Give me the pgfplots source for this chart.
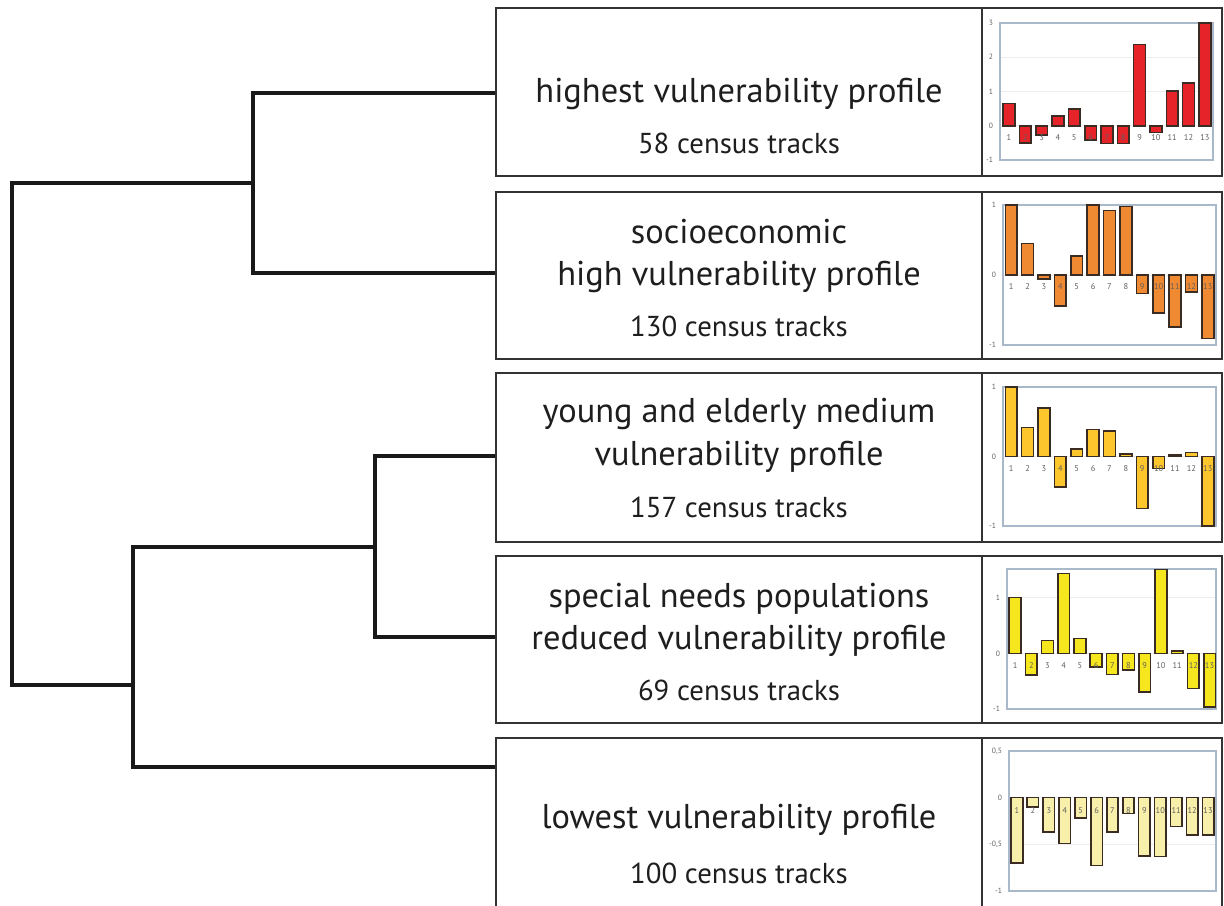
\documentclass[border=0pt]{standalone}
\usepackage{fontspec}
\setmainfont{PT Sans}
\usepackage{pgfplots}
\pgfplotsset{compat=1.18}
\definecolor{c1}{HTML}{E52329}
\definecolor{c2}{HTML}{F08A32}
\definecolor{c3}{HTML}{FDC62C}
\definecolor{c4}{HTML}{F6E61E}
\definecolor{c5}{HTML}{F8F0AA}
\definecolor{edge}{HTML}{3A2C22}
\definecolor{frame}{HTML}{A9B9C9}
\definecolor{tickgray}{HTML}{606060}
\definecolor{gridc}{HTML}{EDEDED}
\definecolor{boxc}{HTML}{333333}
\definecolor{txt}{HTML}{1E1E1E}
\pgfplotsset{
  mini/.style={
    scale only axis, ybar, bar width=0.72, bar shift=0pt,
    xmin=0.5, xmax=13.5,
    axis line style={draw=frame, line width=0.75pt},
    xtick=\empty, major tick length=0pt,
    yticklabel style={font=\fontsize{3.8}{4}\selectfont, text=tickgray},
    ymajorgrids, grid style={draw=gridc, line width=0.4pt},
    /pgf/number format/assume math mode=true,
  },
  barsty/.style={draw=edge, line width=0.8pt, fill=#1},
}
\newcommand{\xnums}{%
  \pgfplotsinvokeforeach{1,...,13}{%
    \node[font=\fontsize{4.2}{4}\selectfont, text=tickgray] at (axis cs:##1,0) [yshift=-6pt] {##1};}%
}
\begin{document}
\begin{tikzpicture}
\useasboundingbox (0,0) rectangle (612pt,452.5pt);
\begin{axis}[
  at={(0,0)}, anchor=south west, scale only axis,
  width=612pt, height=452.5pt,
  xmin=0, xmax=1224, ymin=0, ymax=905, y dir=reverse,
  hide axis, clip=true,
]
% dendrogram
\addplot[no marks, line width=1.8pt, color=black!90, line join=miter] coordinates {(497,93) (253,93) (253,273) (497,273)};
\addplot[no marks, line width=1.8pt, color=black!90, line join=miter] coordinates {(253,183) (12,183) (12,685) (133,685)};
\addplot[no marks, line width=1.8pt, color=black!90, line join=miter] coordinates {(375,547) (133,547) (133,767) (497,767)};
\addplot[no marks, line width=1.8pt, color=black!90, line join=miter] coordinates {(497,456) (375,456) (375,637) (497,637)};
% boxes
\draw[boxc, line width=1pt] (axis cs:496,8) rectangle (axis cs:1222,176);
\draw[boxc, line width=1pt] (axis cs:982,8) -- (axis cs:982,176);
\draw[boxc, line width=1pt] (axis cs:496,192) rectangle (axis cs:1222,359);
\draw[boxc, line width=1pt] (axis cs:982,192) -- (axis cs:982,359);
\draw[boxc, line width=1pt] (axis cs:496,373) rectangle (axis cs:1222,542);
\draw[boxc, line width=1pt] (axis cs:982,373) -- (axis cs:982,542);
\draw[boxc, line width=1pt] (axis cs:496,556) rectangle (axis cs:1222,723);
\draw[boxc, line width=1pt] (axis cs:982,556) -- (axis cs:982,723);
\draw[boxc, line width=1pt] (axis cs:496,738) rectangle (axis cs:1222,915);
\draw[boxc, line width=1pt] (axis cs:982,738) -- (axis cs:982,915);
% texts
\node[anchor=base, text=txt, font=\fontsize{17.2}{20}\selectfont] at (axis cs:739,102) {highest vulnerability profile};
\node[anchor=base, text=txt, font=\fontsize{14.4}{16}\selectfont] at (axis cs:739,153) {58 census tracks};
\node[anchor=base, text=txt, font=\fontsize{17.2}{20}\selectfont] at (axis cs:739,243) {socioeconomic};
\node[anchor=base, text=txt, font=\fontsize{17.2}{20}\selectfont] at (axis cs:739,285) {high vulnerability profile};
\node[anchor=base, text=txt, font=\fontsize{14.4}{16}\selectfont] at (axis cs:739,336) {130 census tracks};
\node[anchor=base, text=txt, font=\fontsize{17.2}{20}\selectfont] at (axis cs:739,422) {young and elderly medium};
\node[anchor=base, text=txt, font=\fontsize{17.2}{20}\selectfont] at (axis cs:739,465) {vulnerability profile};
\node[anchor=base, text=txt, font=\fontsize{14.4}{16}\selectfont] at (axis cs:739,517) {157 census tracks};
\node[anchor=base, text=txt, font=\fontsize{17.2}{20}\selectfont] at (axis cs:739,607) {special needs populations};
\node[anchor=base, text=txt, font=\fontsize{17.2}{20}\selectfont] at (axis cs:739,649) {reduced vulnerability profile};
\node[anchor=base, text=txt, font=\fontsize{14.4}{16}\selectfont] at (axis cs:739,700) {69 census tracks};
\node[anchor=base, text=txt, font=\fontsize{17.2}{20}\selectfont] at (axis cs:739,828) {lowest vulnerability profile};
\node[anchor=base, text=txt, font=\fontsize{14.4}{16}\selectfont] at (axis cs:739,883) {100 census tracks};
% anchors for the mini charts
\coordinate (a1) at (axis cs:1000,160);
\coordinate (a2) at (axis cs:1003,345);
\coordinate (a3) at (axis cs:1003,526);
\coordinate (a4) at (axis cs:1007,709);
\coordinate (a5) at (axis cs:1009,891);
\end{axis}

% chart 1
\begin{axis}[mini, at={(a1)}, anchor=south west, width=106.5pt, height=68.5pt,
  xmin=0.45, ymin=-1, ymax=3, ytick={-1,0,1,2,3}]
\addplot[barsty=c1] coordinates {(1,0.65) (2,-0.51) (3,-0.27) (4,0.29) (5,0.49) (6,-0.42) (7,-0.52) (8,-0.52) (9,2.37) (10,-0.20) (11,1.02) (12,1.25) (13,3.0)};
\xnums
\end{axis}

% chart 2
\begin{axis}[mini, at={(a2)}, anchor=south west, width=106.5pt, height=70pt,
  ymin=-1, ymax=1, ytick={-1,0,1}]
\addplot[barsty=c2] coordinates {(1,1.0) (2,0.45) (3,-0.06) (4,-0.44) (5,0.27) (6,1.0) (7,0.92) (8,0.98) (9,-0.265) (10,-0.54) (11,-0.74) (12,-0.24) (13,-0.91)};
\xnums
\end{axis}

% chart 3
\begin{axis}[mini, at={(a3)}, anchor=south west, width=106.5pt, height=69.5pt,
  ymin=-1, ymax=1, ytick={-1,0,1}]
\addplot[barsty=c3] coordinates {(1,1.0) (2,0.42) (3,0.70) (4,-0.44) (5,0.11) (6,0.39) (7,0.37) (8,0.04) (9,-0.75) (10,-0.17) (11,0.02) (12,0.06) (13,-1.0)};
\xnums
\end{axis}

% chart 4
\begin{axis}[mini, at={(a4)}, anchor=south west, width=104.5pt, height=70pt,
  xmax=13.4, ymin=-1, ymax=1.52, ytick={-1,0,1}]
\addplot[barsty=c4] coordinates {(1,1.01) (2,-0.39) (3,0.23) (4,1.44) (5,0.27) (6,-0.245) (7,-0.38) (8,-0.30) (9,-0.69) (10,1.52) (11,0.04) (12,-0.63) (13,-0.96)};
\xnums
\end{axis}

% chart 5
\begin{axis}[mini, at={(a5)}, anchor=south west, width=103.5pt, height=70pt,
  ymin=-1, ymax=0.5, ytick={-1,-0.5,0,0.5}, yticklabels={-1,{-0,5},0,{0,5}}]
\addplot[barsty=c5] coordinates {(1,-0.70) (2,-0.10) (3,-0.37) (4,-0.49) (5,-0.22) (6,-0.725) (7,-0.365) (8,-0.17) (9,-0.625) (10,-0.63) (11,-0.31) (12,-0.40) (13,-0.40)};
\pgfplotsinvokeforeach{1,...,13}{%
  \node[font=\fontsize{4.2}{4}\selectfont, text=tickgray] at (axis cs:#1,0) [yshift=-6.5pt] {#1};}
\end{axis}
\end{tikzpicture}
\end{document}
